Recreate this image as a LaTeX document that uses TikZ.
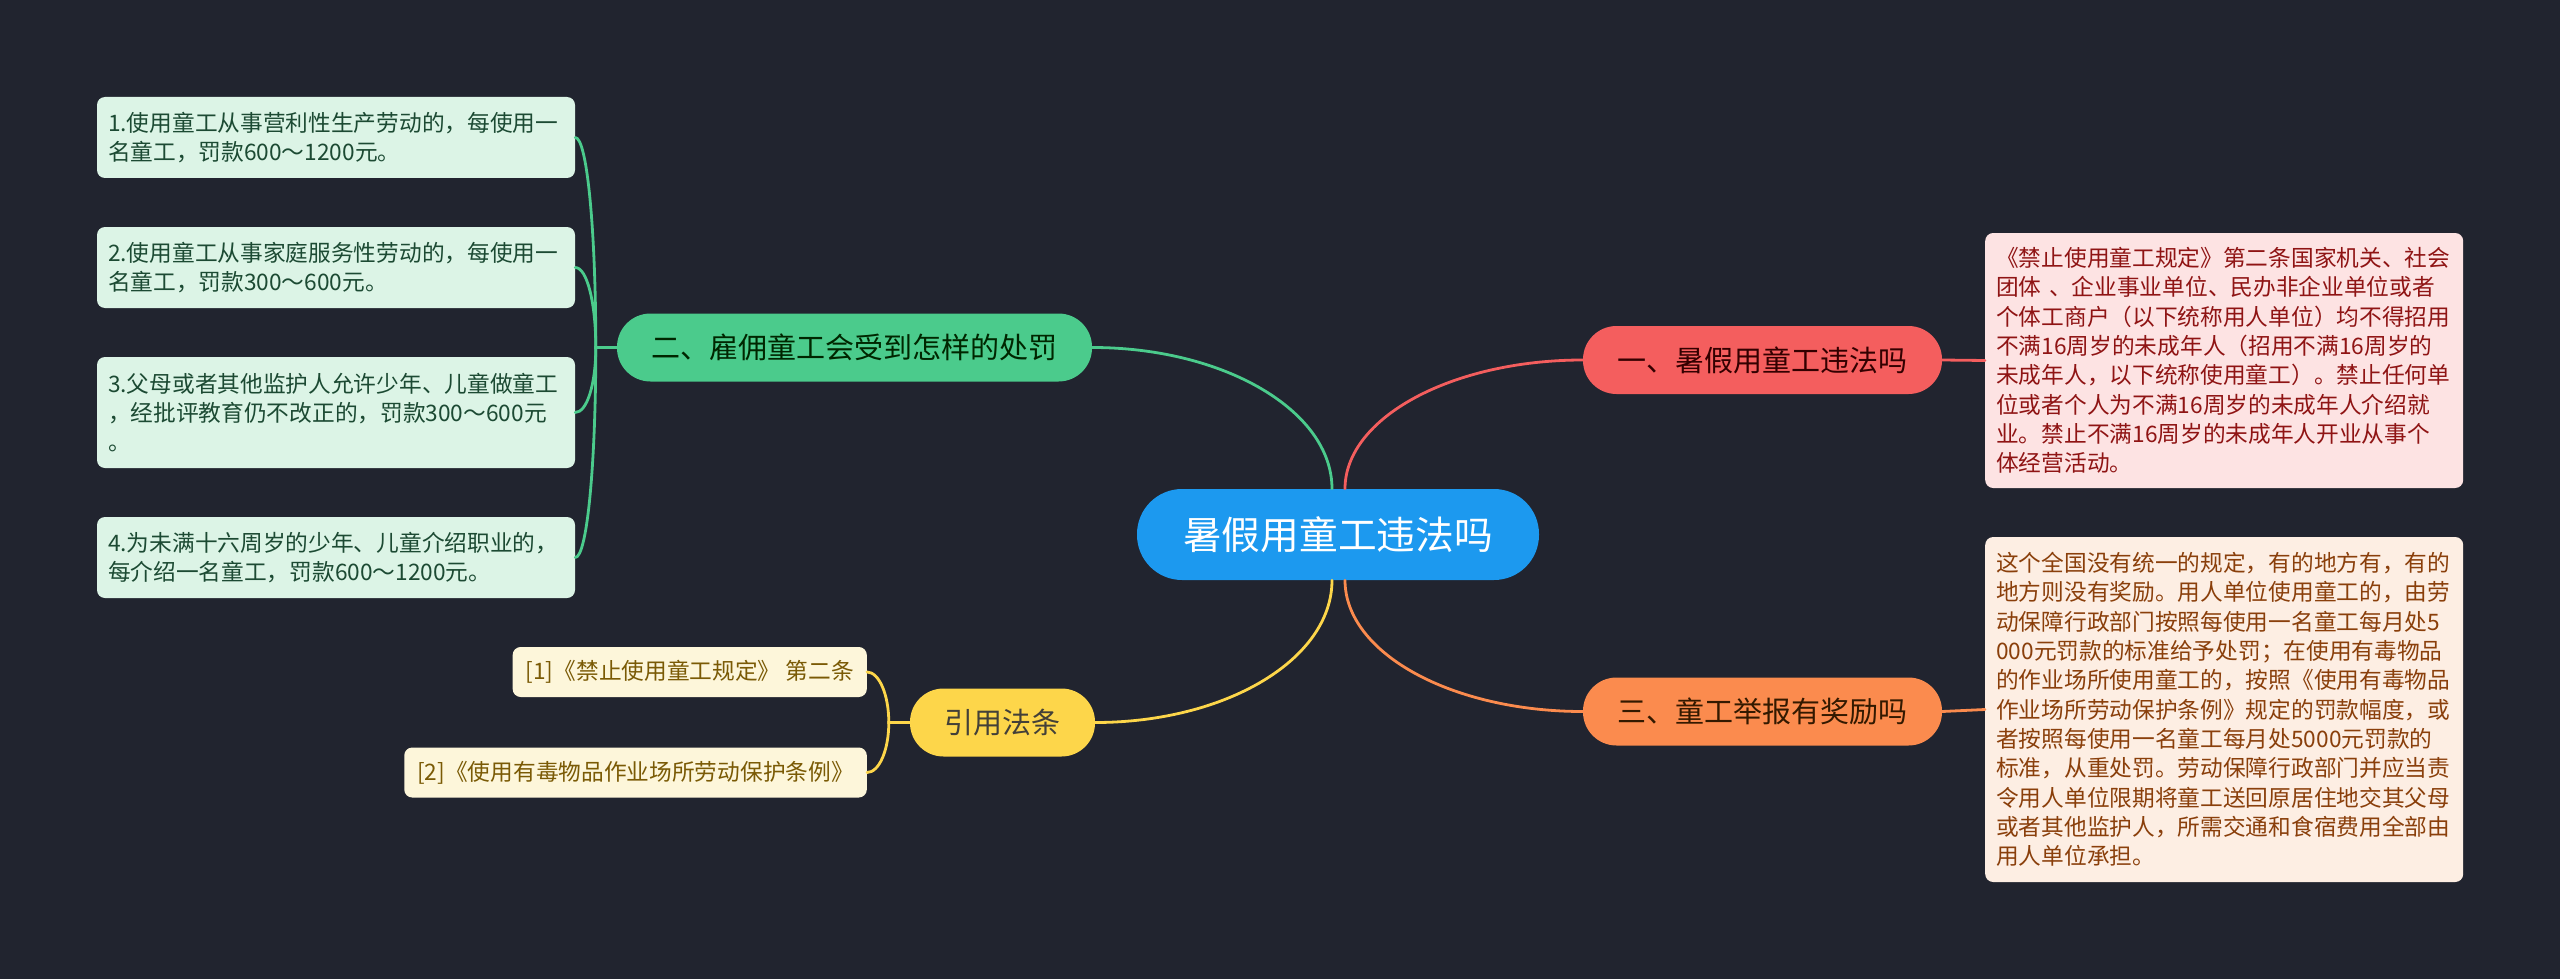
\documentclass[tikz,border=0pt]{standalone}
\usepackage{fontspec}
\setmainfont{Noto Sans CJK SC}
\usetikzlibrary{calc}

\definecolor{bg}{HTML}{21242F}
\definecolor{rootblue}{HTML}{1C99EF}
\definecolor{redbr}{HTML}{F45E5E}
\definecolor{orangebr}{HTML}{FB8B4E}
\definecolor{greenbr}{HTML}{4BCB8C}
\definecolor{yellowbr}{HTML}{FDD64A}
\definecolor{redbox}{HTML}{FDE3E3}
\definecolor{redtxt}{HTML}{8F1414}
\definecolor{orangebox}{HTML}{FDEEE3}
\definecolor{orangetxt}{HTML}{8A3F0B}
\definecolor{greenbox}{HTML}{DCF4E6}
\definecolor{greentxt}{HTML}{1C4A33}
\definecolor{yellowbox}{HTML}{FDF6DA}
\definecolor{yellowtxt}{HTML}{7A5A05}

\tikzset{
  root/.style={fill=rootblue, text=white, rounded corners=45pt, minimum width=402pt,
    minimum height=91pt, inner sep=0pt, font=\fontsize{38.7}{46}\selectfont},
  branch/.style={rounded corners=33.5pt, minimum height=68pt, inner sep=0pt,
    font=\fontsize{29}{35}\selectfont},
  leaf/.style={rounded corners=8pt, inner xsep=11pt, inner ysep=0pt, text width=456pt,
    align=left, font=\fontsize{22.7}{29.3}\selectfont},
  ref/.style={rounded corners=8pt, inner xsep=13pt, inner ysep=0pt, minimum height=50pt,
    fill=yellowbox, text=yellowtxt, font=\fontsize{22.7}{29.3}\selectfont},
  link/.style={line width=2.8pt, line cap=round},
}

\begin{document}
\begin{tikzpicture}[x=1pt, y=-1pt]
  \fill[bg] (0,0) rectangle (2560,979);
  \useasboundingbox (0,0) rectangle (2560,979);

  % centre
  \node[root] (c) at (1338,534.5) {暑假用童工违法吗};

  % branches
  \node[branch, fill=redbr, text=black!80!red, minimum width=359pt] (r) at (1762.5,360) {一、暑假用童工违法吗};
  \node[branch, fill=orangebr, text=black!80!orange, minimum width=359pt] (o) at (1762.5,711.5) {三、童工举报有奖励吗};
  \node[branch, fill=greenbr, text=black!85!green, minimum width=475pt] (g) at (854.5,347.5) {二、雇佣童工会受到怎样的处罚};
  \node[branch, fill=yellowbr, text=black!85!yellow, minimum width=185pt] (y) at (1002.5,722.5) {引用法条};

  % right boxes
  \node[leaf, fill=redbox, text=redtxt, minimum height=255pt, anchor=west] (rt) at (1985,360.5) {%
    《禁止使用童工规定》第二条国家机关、社会\\
    团体 、企业事业单位、民办非企业单位或者\\
    个体工商户（以下统称用人单位）均不得招用\\
    不满16周岁的未成年人（招用不满16周岁的\\
    未成年人，以下统称使用童工）。禁止任何单\\
    位或者个人为不满16周岁的未成年人介绍就\\
    业。禁止不满16周岁的未成年人开业从事个\\
    体经营活动。};
  \node[leaf, fill=orangebox, text=orangetxt, minimum height=345pt, anchor=west] (ot) at (1985,709.5) {%
    这个全国没有统一的规定，有的地方有，有的\\
    地方则没有奖励。用人单位使用童工的，由劳\\
    动保障行政部门按照每使用一名童工每月处5\\
    000元罚款的标准给予处罚；在使用有毒物品\\
    的作业场所使用童工的，按照《使用有毒物品\\
    作业场所劳动保护条例》规定的罚款幅度，或\\
    者按照每使用一名童工每月处5000元罚款的\\
    标准，从重处罚。劳动保障行政部门并应当责\\
    令用人单位限期将童工送回原居住地交其父母\\
    或者其他监护人，所需交通和食宿费用全部由\\
    用人单位承担。};

  % left boxes
  \node[leaf, fill=greenbox, text=greentxt, minimum height=81pt] (g1) at (336,137.5) {%
    1.使用童工从事营利性生产劳动的，每使用一\\名童工，罚款600～1200元。};
  \node[leaf, fill=greenbox, text=greentxt, minimum height=81pt] (g2) at (336,267.5) {%
    2.使用童工从事家庭服务性劳动的，每使用一\\名童工，罚款300～600元。};
  \node[leaf, fill=greenbox, text=greentxt, minimum height=111pt] (g3) at (336,412.5) {%
    3.父母或者其他监护人允许少年、儿童做童工\\，经批评教育仍不改正的，罚款300～600元\\。};
  \node[leaf, fill=greenbox, text=greentxt, minimum height=81pt] (g4) at (336,557.5) {%
    4.为未满十六周岁的少年、儿童介绍职业的，\\每介绍一名童工，罚款600～1200元。};

  \node[ref, anchor=east] (y1) at (867,672) {[1]《禁止使用童工规定》 第二条};
  \node[ref, anchor=east] (y2) at (867,772.5) {[2]《使用有毒物品作业场所劳动保护条例》};

  % connectors
  \draw[link, greenbr] ([xshift=-6pt]c.north) .. controls +(0,-78) and +(132,0) .. (g.east);
  \draw[link, redbr] ([xshift=7pt]c.north) .. controls +(0,-71) and +(-131,0) .. (r.west);
  \draw[link, yellowbr] ([xshift=-6pt]c.south) .. controls +(0,79) and +(131,0) .. (y.east);
  \draw[link, orangebr] ([xshift=7pt]c.south) .. controls +(0,73) and +(-131,0) .. (o.west);

  \draw[link, redbr] (r.east) -- (rt.west);
  \draw[link, orangebr] (o.east) -- (ot.west);

  \foreach \n/\d in {g1/-116, g2/-44, g3/36, g4/116}
    \draw[link, greenbr] (g.west) -- ++(-21,0) .. controls +(0,\d) and +(12,0) .. (\n.east);
  \foreach \n/\d in {y1/-28, y2/28}
    \draw[link, yellowbr] (y.west) -- ++(-21,0) .. controls +(0,\d) and +(12,0) .. (\n.east);
\end{tikzpicture}
\end{document}
